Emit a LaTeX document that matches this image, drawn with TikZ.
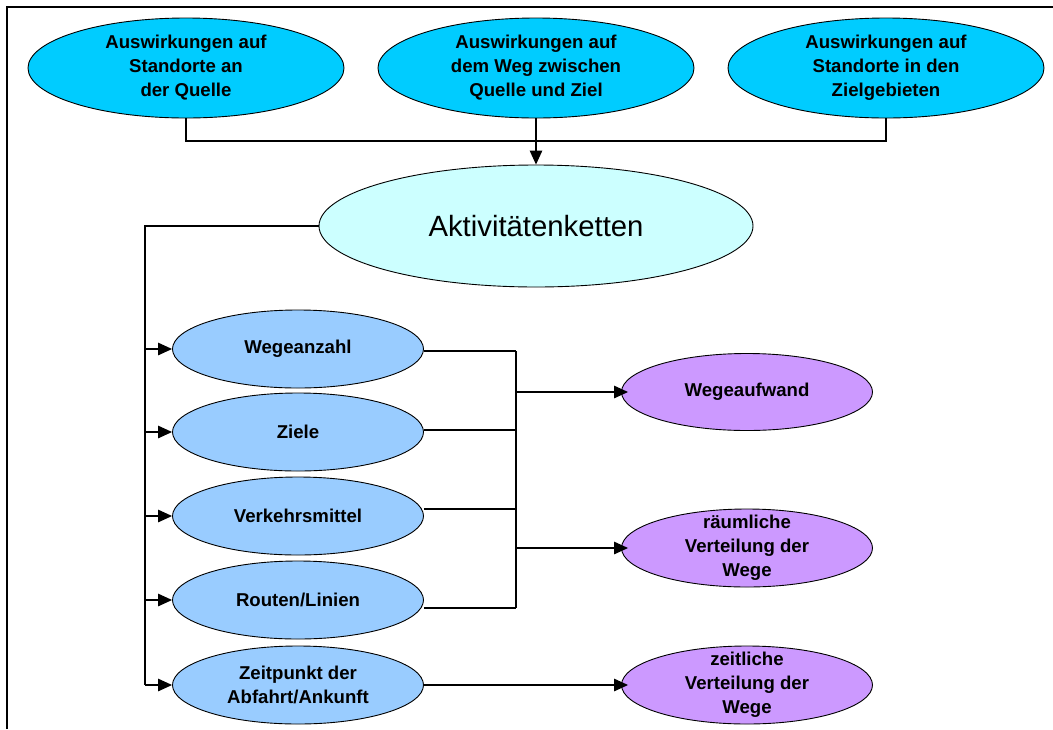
\documentclass[tikz,border=0pt]{standalone}
\usepackage{fontspec}
\setmainfont{Liberation Sans}
\usetikzlibrary{shapes.geometric,arrows.meta}
\definecolor{topfill}{HTML}{00CCFF}
\definecolor{corefill}{HTML}{CCFFFF}
\definecolor{factorfill}{HTML}{99CCFF}
\definecolor{effectfill}{HTML}{CC99FF}

\begin{document}
\begin{tikzpicture}[x=1pt,y=-1pt,
  oval/.style n args={3}{ellipse, draw=black, line width=0.9pt, fill=#1,
    minimum width=#2, minimum height=#3, inner sep=0pt},
  txt/.style={label={[align=center,inner sep=0pt,
    font=\bfseries\fontsize{18.6}{24}\selectfont]center:#1}},
  conn/.style={line width=1.2pt, draw=black},
  arr/.style={conn, -{Triangle[length=14pt,width=12.5pt]}}]

\useasboundingbox (0,0) rectangle (1053,729);

% frame
\draw[line width=2pt] (7,729) -- (7,7) -- (1053,7);

% top level: effects on locations and paths
\node[oval={topfill}{316pt}{100pt}, txt={Auswirkungen auf\\Standorte an\\der Quelle}] (q1) at (186,68) {};
\node[oval={topfill}{316pt}{100pt}, txt={Auswirkungen auf\\dem Weg zwischen\\Quelle und Ziel}] (q2) at (536,68) {};
\node[oval={topfill}{316pt}{100pt}, txt={Auswirkungen auf\\Standorte in den\\Zielgebieten}] (q3) at (886,68) {};

% central node
\node[oval={corefill}{434pt}{122pt},
  label={[inner sep=0pt,font=\fontsize{29.3}{35}\selectfont]center:Aktivitätenketten}] (core) at (536,226) {};

% factors
\node[oval={factorfill}{251pt}{78pt}, txt={Wegeanzahl}] (f1) at (298,349) {};
\node[oval={factorfill}{251pt}{78pt}, txt={Ziele}] (f2) at (298,432) {};
\node[oval={factorfill}{251pt}{78pt}, txt={Verkehrsmittel}] (f3) at (298,516) {};
\node[oval={factorfill}{251pt}{78pt}, txt={Routen/Linien}] (f4) at (298,600) {};
\node[oval={factorfill}{251pt}{78pt}, txt={Zeitpunkt der\\Abfahrt/Ankunft}] (f5) at (298,685) {};

% results
\node[oval={effectfill}{251pt}{77pt}, txt={Wegeaufwand}] (e1) at (747,392) {};
\node[oval={effectfill}{251pt}{78pt}, txt={räumliche\\Verteilung der\\Wege}] (e2) at (747,548) {};
\node[oval={effectfill}{251pt}{78pt}, txt={zeitliche\\Verteilung der\\Wege}] (e3) at (747,685) {};

% bus below the top row
\coordinate (bus) at (536,141);
\draw[conn] (q1.south) -- (q1.south |- bus) -- (q3.south |- bus) -- (q3.south);
\draw[arr] (q2.south) -- (core.north);

% spine on the left feeding the factors
\coordinate (sp) at (145,226);
\draw[conn] (core.west) -- (sp) -- (sp |- f5);
\foreach \f in {f1,f2,f3,f4,f5}
  \draw[arr] (sp |- \f) -- (\f.west);

% collector on the right
\coordinate (j1) at (516,351);
\coordinate (j2) at (516,430);
\coordinate (j3) at (516,509);
\coordinate (j4) at (516,608);
\draw[conn] ([yshift=-2pt]f1.east) -- (j1);
\draw[conn] ([yshift=2pt]f2.east) -- (j2);
\draw[conn] ([yshift=7pt]f3.east) -- (j3);
\draw[conn] ([yshift=-8pt]f4.east) -- (j4);
\draw[conn] (j1) -- (j4);
\draw[arr, shorten >=-7pt] (j1 |- e1) -- (e1.west);
\draw[arr, shorten >=-7pt] (j1 |- e2) -- (e2.west);
\draw[arr, shorten >=-7pt] (f5.east) -- (e3.west);
\end{tikzpicture}
\end{document}
